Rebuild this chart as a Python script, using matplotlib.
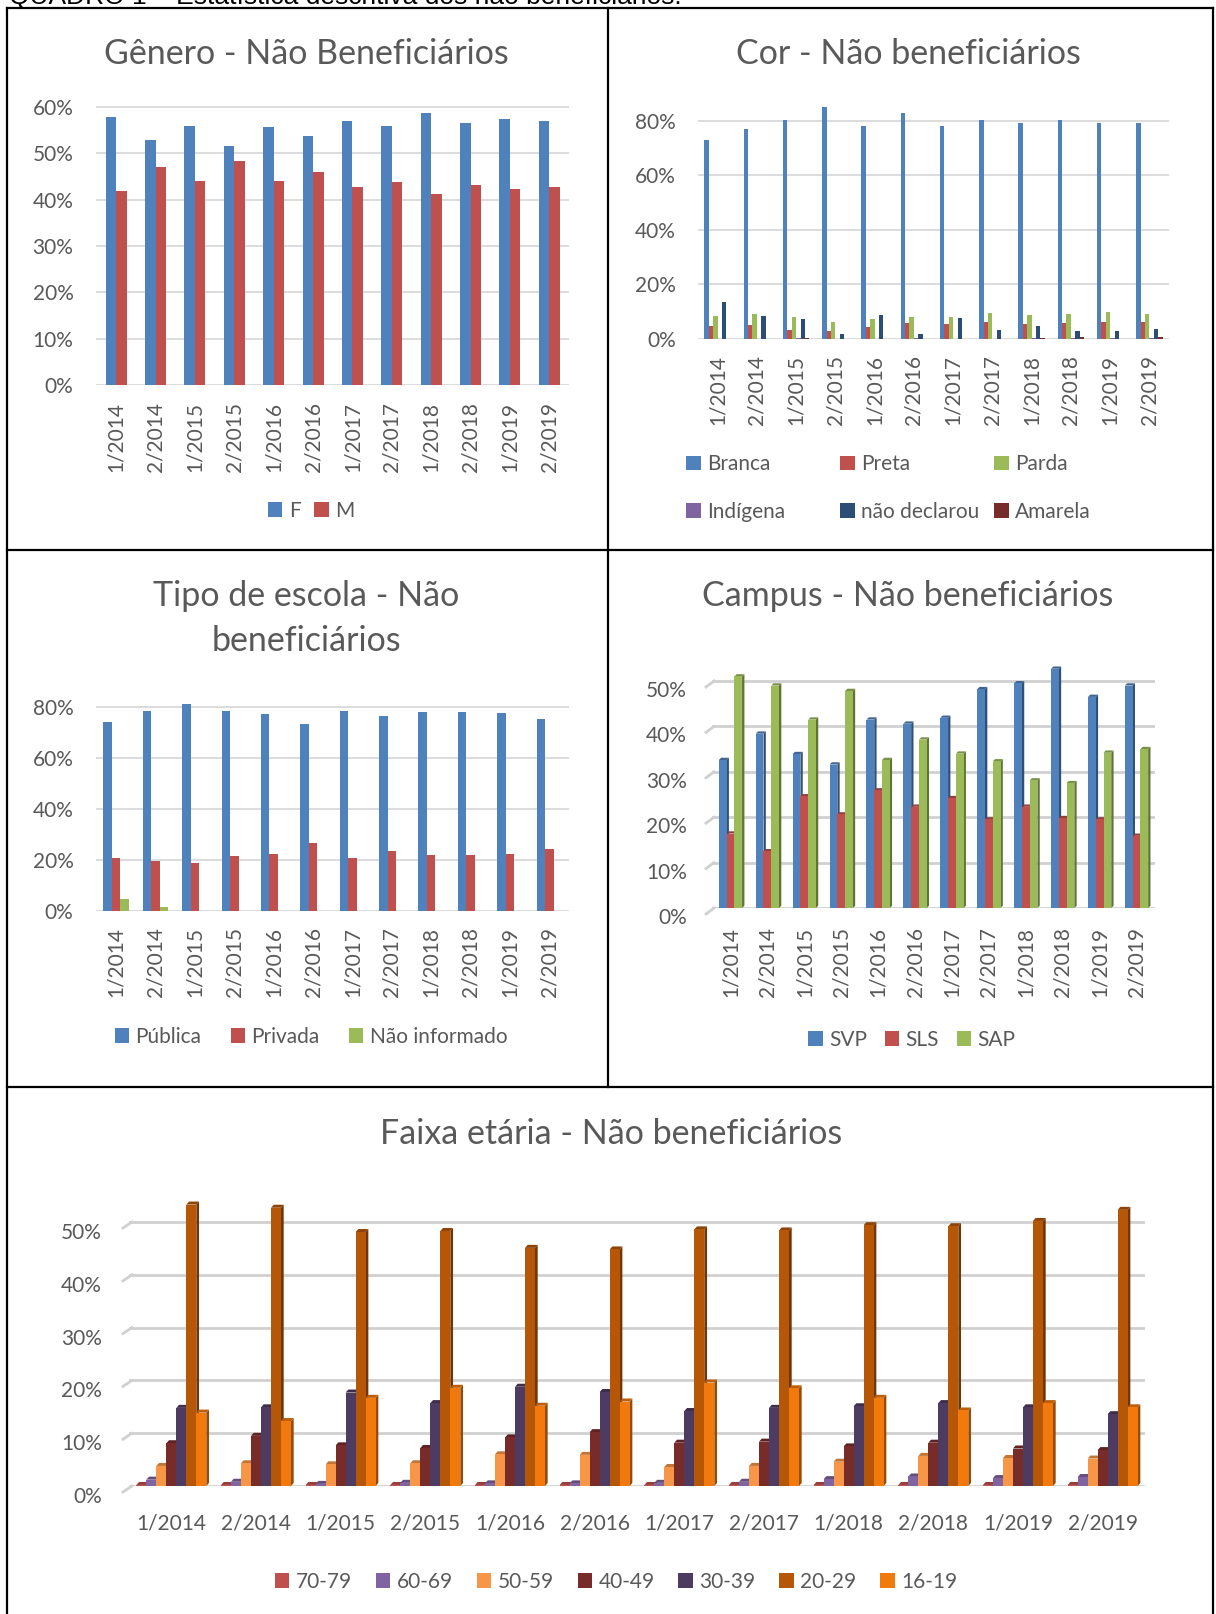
#======================
# imports
#======================
import numpy as np
import matplotlib
matplotlib.use("Agg")
import matplotlib.pyplot as plt
import matplotlib.colors as mcolors
import matplotlib.transforms as mtransforms
from matplotlib.patches import Patch
from matplotlib.lines import Line2D
from matplotlib.ticker import FuncFormatter

#======================
# data (percent)
#======================
periods = ['1/2014', '2/2014', '1/2015', '2/2015', '1/2016', '2/2016',
           '1/2017', '2/2017', '1/2018', '2/2018', '1/2019', '2/2019']

# Gênero
gen_f = [57.8, 52.8, 55.8, 51.5, 55.7, 53.8, 57.0, 56.0, 58.7, 56.6, 57.5, 57.0]
gen_m = [41.9, 47.0, 44.0, 48.3, 44.1, 46.0, 42.7, 43.8, 41.2, 43.2, 42.3, 42.7]

# Cor
cor_branca = [73.2, 76.9, 80.5, 85.1, 78.3, 82.8, 78.3, 80.3, 79.3, 80.5, 79.1, 79.1]
cor_preta = [4.6, 5.1, 3.4, 3.1, 4.5, 5.9, 5.6, 6.2, 5.6, 5.9, 6.4, 6.4]
cor_parda = [8.3, 9.0, 7.9, 6.4, 7.5, 8.1, 7.9, 9.6, 8.8, 9.2, 10.0, 9.3]
cor_indigena = [0.1, 0.0, 0.2, 0.0, 0.1, 0.3, 0.0, 0.1, 0.2, 0.2, 0.3, 0.2]
cor_nao_decl = [13.5, 8.5, 7.5, 1.7, 8.9, 2.0, 7.6, 3.3, 4.7, 3.0, 3.0, 3.5]
cor_amarela = [0.0, 0.0, 0.2, 0.0, 0.0, 0.0, 0.0, 0.0, 0.5, 0.6, 0.1, 0.6]

# Tipo de escola
esc_publica = [74.1, 78.5, 81.1, 78.4, 77.4, 73.3, 78.5, 76.4, 78.0, 78.0, 77.7, 75.2]
esc_privada = [20.8, 19.8, 18.7, 21.4, 22.2, 26.6, 20.8, 23.4, 21.9, 21.9, 22.2, 24.4]
esc_nao_inf = [4.6, 1.4, 0, 0, 0, 0, 0, 0, 0, 0, 0, 0]

# Campus
camp_svp = [32.6, 38.4, 33.9, 31.6, 41.5, 40.6, 41.9, 48.2, 49.5, 52.7, 46.5, 49.0]
camp_sls = [16.4, 12.5, 24.6, 20.6, 25.9, 22.3, 24.2, 19.5, 22.3, 19.8, 19.5, 15.9]
camp_sap = [51.0, 49.0, 41.5, 47.8, 32.6, 37.1, 34.0, 32.3, 28.1, 27.5, 34.2, 35.0]

# Faixa etária
fx_70 = [0.2, 0.2, 0.2, 0.2, 0.2, 0.2, 0.2, 0.2, 0.2, 0.2, 0.2, 0.2]
fx_60 = [1.2, 0.8, 0.4, 0.6, 0.5, 0.5, 0.6, 0.8, 1.3, 1.8, 1.5, 1.7]
fx_50 = [3.8, 4.3, 4.1, 4.3, 6.0, 5.9, 3.6, 3.8, 4.6, 5.7, 5.3, 5.2]
fx_40 = [8.1, 9.5, 7.7, 7.2, 9.2, 10.2, 8.2, 8.4, 7.5, 8.2, 7.1, 6.8]
fx_30 = [14.8, 14.9, 17.7, 15.7, 18.8, 17.8, 14.2, 14.8, 15.1, 15.7, 14.9, 13.6]
fx_20 = [53.3, 52.7, 48.1, 48.3, 45.1, 44.8, 48.6, 48.4, 49.4, 49.2, 50.2, 52.3]
fx_16 = [13.9, 12.3, 16.7, 18.6, 15.2, 16.0, 19.6, 18.5, 16.7, 14.3, 15.7, 14.9]

#======================
# style
#======================
W, H = 1216, 1614
DPI = 100
TXT = '#595959'
BLUE, RED, GREEN = '#4F81BD', '#C0504D', '#9BBB59'
PURPLE, NAVY, DKRED = '#8064A2', '#2C4D75', '#772C2A'
LORANGE, DKPURPLE, BROWN, ORANGE = '#F79646', '#4D3B62', '#B65708', '#F27A0C'
TICK_FS = 15
TITLE_FS = 24.5

plt.rcParams['font.family'] = ['Lato', 'DejaVu Sans']

fig = plt.figure(figsize=(W / DPI, H / DPI), dpi=DPI)
x = np.arange(len(periods))
pct = FuncFormatter(lambda v, p: '%d%%' % v)


def fy(ypix):
    return 1 - ypix / H


def px_axes(x0, x1, y_zero, y_ref, ref_val, ymax, ticks, ypad, grid_c='#D9D9D9', grid_w=1.3):
    # place an axes so that 0 sits at y_zero px and ref_val at y_ref px
    ppu = (y_zero - y_ref) / ref_val
    y_top = y_zero - ymax * ppu
    ax = fig.add_axes([x0 / W, fy(y_zero), (x1 - x0) / W, (y_zero - y_top) / H])
    ax.set_ylim(0, ymax)
    ax.set_xlim(-0.5, len(periods) - 0.5)
    for s in ax.spines.values():
        s.set_visible(False)
    ax.patch.set_alpha(0)
    ax.set_axisbelow(True)
    ax.yaxis.grid(True, color=grid_c, lw=grid_w)
    ax.set_yticks(ticks)
    ax.yaxis.set_major_formatter(pct)
    ax.tick_params(length=0, colors=TXT, labelsize=TICK_FS)
    ax.tick_params(axis='y', pad=ypad * 0.72)
    return ax, ppu


def title(cx, base, s):
    fig.text(cx / W, fy(base), s, ha='center', va='baseline', fontsize=TITLE_FS, color=TXT)


def legend(cx, cy, names, colors, cs, loc='center', ncol=None):
    handles = [Patch(facecolor=c, label=n) for n, c in zip(names, colors)]
    fig.legend(handles=handles, loc=loc, bbox_to_anchor=(cx / W, fy(cy)),
               ncol=ncol or len(names), frameon=False, fontsize=TICK_FS,
               handlelength=0.7, handleheight=0.7, handletextpad=0.3,
               columnspacing=cs, labelcolor=TXT, borderaxespad=0, borderpad=0,
               labelspacing=1.3)


def grouped(ax, series, colors, w):
    n = len(series)
    for i, (vals, c) in enumerate(zip(series, colors)):
        ax.bar(x + (i - (n - 1) / 2) * w, vals, w, color=c, lw=0, zorder=3)


def shade(c, f):
    r, g, b = mcolors.to_rgb(c)
    return (r * f, g * f, b * f)


def grouped_3d(ax, series, colors, w, dx, dy):
    n = len(series)
    for i, (vals, c) in enumerate(zip(series, colors)):
        z = 3 + i * 0.01
        xs = x + (i - (n - 1) / 2) * w
        for xi, v in zip(xs, vals):
            xl, xr = xi - w / 2, xi + w / 2
            ax.fill([xr, xr + dx, xr + dx, xr], [0, dy, v + dy, v],
                    color=shade(c, 0.62), lw=0, zorder=z)
            ax.fill([xl, xl + dx, xr + dx, xr], [v, v + dy, v + dy, v],
                    color=shade(c, 0.78), lw=0, zorder=z)
        ax.bar(xs, vals, w, color=c, lw=0, zorder=z)


def floor_stubs(ax, x0, y_zero, ppu, ticks, sx, sy, drop):
    # little slanted ends of the back-wall gridlines + labels set at the front
    for v in ticks:
        yp = y_zero - v * ppu
        fig.add_artist(Line2D([(x0 - sx) / W, x0 / W], [fy(yp + sy), fy(yp)],
                              transform=fig.transFigure, color='#D0D0D0', lw=2))
    off = mtransforms.ScaledTranslation(0, -drop / DPI, fig.dpi_scale_trans)
    for t in ax.yaxis.get_major_ticks():
        t.label1.set_transform(t.label1.get_transform() + off)


#----------------------------------------------------------------------- header + frame
fig.text(9 / W, fy(4), 'QUADRO 1 \u2013 Estatística descritiva dos não beneficiários.',
         family='Liberation Sans', fontsize=19, va='baseline', color='black')

frame = [((7, 1213), (8, 8)), ((7, 7), (8, 1614)), ((1213, 1213), (8, 1614)),
         ((608, 608), (8, 1087)), ((7, 1213), (550, 550)), ((7, 1213), (1087, 1087))]
for xs_, ys_ in frame:
    fig.add_artist(Line2D([v / W for v in xs_], [fy(v) for v in ys_],
                          transform=fig.transFigure, color='black', lw=1.6))

#----------------------------------------------------------------------- Gênero
ax1, _ = px_axes(96.5, 569, 385, 107, 60, 61, range(0, 61, 10), 23)
grouped(ax1, [gen_f, gen_m], [BLUE, RED], 0.267)
ax1.set_xticks(x, periods, rotation=90)
ax1.tick_params(axis='x', pad=17 * 0.72)
title(306.5, 64, 'Gênero - Não Beneficiários')
legend(311, 511, ['F', 'M'], [BLUE, RED], 0.65)

#----------------------------------------------------------------------- Cor
ax2, _ = px_axes(698, 1169, 339, 121, 80, 88, range(0, 81, 20), 22)
grouped(ax2, [cor_branca, cor_preta, cor_parda, cor_indigena, cor_nao_decl, cor_amarela],
        [BLUE, RED, GREEN, PURPLE, NAVY, DKRED], 0.113)
ax2.set_xticks(x, periods, rotation=90)
ax2.tick_params(axis='x', pad=16 * 0.72)
title(908.5, 64, 'Cor - Não beneficiários')
cor_cols = [(686, ['Branca', 'Indígena'], [BLUE, PURPLE]),
            (840, ['Preta', 'não declarou'], [RED, NAVY]),
            (994, ['Parda', 'Amarela'], [GREEN, DKRED])]
for lx, names, cols in cor_cols:
    legend(lx, 488, names, cols, 1.0, loc='center left', ncol=1)

#----------------------------------------------------------------------- Tipo de escola
ax3, _ = px_axes(96.5, 569, 911, 707, 80, 84, range(0, 81, 20), 23)
grouped(ax3, [esc_publica, esc_privada, esc_nao_inf], [BLUE, RED, GREEN], 0.215)
ax3.set_xticks(x, periods, rotation=90)
ax3.tick_params(axis='x', pad=16 * 0.72)
title(306.5, 606, 'Tipo de escola - Não')
title(306.5, 651, 'beneficiários')
legend(311, 1037, ['Pública', 'Privada', 'Não informado'], [BLUE, RED, GREEN], 1.4)

#----------------------------------------------------------------------- Campus (3D look)
camp_ticks = range(0, 51, 10)
ax4, ppu4 = px_axes(712, 1155, 908, 681, 50, 56, camp_ticks, 25, '#D0D0D0', 2)
grouped_3d(ax4, [camp_svp, camp_sls, camp_sap], [BLUE, RED, GREEN], 0.21, 0.063, 0.5)
ax4.set_xticks(x, periods, rotation=90)
ax4.tick_params(axis='x', pad=19 * 0.72)
floor_stubs(ax4, 714, 908, ppu4, camp_ticks, 8, 6, 8)
title(907.5, 606, 'Campus - Não beneficiários')
legend(912, 1040, ['SVP', 'SLS', 'SAP'], [BLUE, RED, GREEN], 0.85)

#----------------------------------------------------------------------- Faixa etária (3D look)
fx_ticks = range(0, 51, 10)
ax5, ppu5 = px_axes(129, 1145, 1486, 1222, 50, 57, fx_ticks, 27, '#D0D0D0', 2)
grouped_3d(ax5, [fx_70, fx_60, fx_50, fx_40, fx_30, fx_20, fx_16],
           ['#C0504D', PURPLE, LORANGE, DKRED, DKPURPLE, BROWN, ORANGE], 0.118, 0.032, 0.57)
ax5.set_xticks(x, periods)
ax5.tick_params(axis='x', pad=28 * 0.72)
floor_stubs(ax5, 132, 1486, ppu5, fx_ticks, 9, 6, 9)
title(611, 1144, 'Faixa etária - Não beneficiários')
legend(616, 1582, ['70-79', '60-69', '50-59', '40-49', '30-39', '20-29', '16-19'],
       ['#C0504D', PURPLE, LORANGE, DKRED, DKPURPLE, BROWN, ORANGE], 1.15)

fig.savefig('out.png', dpi=DPI)
